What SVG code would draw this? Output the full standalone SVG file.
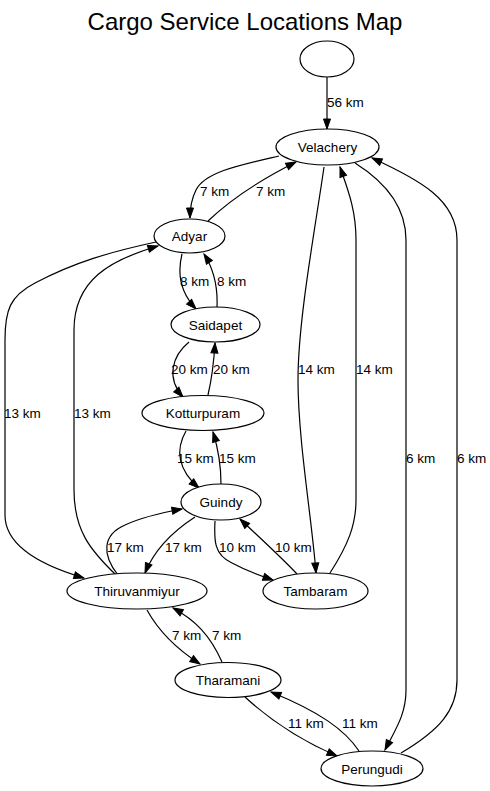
<svg xmlns="http://www.w3.org/2000/svg" width="490" height="791" viewBox="0 0 490 791">
<style>
.n ellipse{fill:#fff;stroke:#000;stroke-width:1.2}
.n text{font-family:"Liberation Sans",Arial,sans-serif;font-size:13.5px;text-anchor:middle;fill:#000}
.e path{fill:none;stroke:#000;stroke-width:1.2;marker-end:url(#ah)}
.e text{font-family:"Liberation Sans",Arial,sans-serif;font-size:13.5px;fill:#000}
.title{font-family:"Liberation Sans",Arial,sans-serif;font-size:24px;text-anchor:middle;fill:#000}
</style>
<defs>
<marker id="ah" markerUnits="userSpaceOnUse" markerWidth="11" markerHeight="8" refX="10" refY="3.5" orient="auto" overflow="visible">
<path d="M0,0 L10,3.5 L0,7 z" fill="#000" stroke="#000" stroke-width="1"/>
</marker>
</defs>
<rect width="490" height="791" fill="#fff"/>
<text class="title" x="245" y="30">Cargo Service Locations Map</text>
<g id="edges" class="e">
<path d="M327,77 L327,129"/>
<text x="327" y="107">56 km</text>
<path d="M279,156 C240,165 205,172 196,190 C191,200 190,208 190,218"/>
<text x="200" y="196">7 km</text>
<path d="M208,221 C230,200 260,180 296,162"/>
<text x="256" y="196">7 km</text>
<path d="M182,254 C178,270 178,290 196,309"/>
<text x="180" y="286">8 km</text>
<path d="M217,307 C218,285 213,268 204,254"/>
<text x="217" y="286">8 km</text>
<path d="M189,342 C172,356 166,378 183,397"/>
<text x="171" y="374">20 km</text>
<path d="M208,395 C212,378 214,360 215,343"/>
<text x="213" y="374">20 km</text>
<path d="M186,431 C175,450 178,470 199,488"/>
<text x="177" y="463">15 km</text>
<path d="M221,484 C221,466 218,448 213,432"/>
<text x="219" y="463">15 km</text>
<path d="M324,167 C315,230 298,320 298,380 C298,440 312,520 316,573"/>
<text x="298" y="374">14 km</text>
<path d="M330,573 C348,545 356,525 356,500 L356,240 C356,210 348,190 340,167"/>
<text x="356" y="374">14 km</text>
<path d="M355,163 C390,185 406,210 406,240 L406,690 C406,715 395,730 385,750"/>
<text x="406" y="463">6 km</text>
<path d="M401,753 C440,730 457,710 457,680 L457,240 C457,200 420,180 372,158"/>
<text x="457" y="463">6 km</text>
<path d="M156,242 C110,252 75,262 35,283 C10,296 5,310 5,340 L5,515 C5,545 40,565 84,578"/>
<text x="4" y="418">13 km</text>
<path d="M116,575 C90,550 74,530 74,490 L74,330 C74,280 110,260 158,246"/>
<text x="74" y="418">13 km</text>
<path d="M118,575 C102,555 102,535 125,525 C140,518 160,513 182,509"/>
<text x="107" y="552">17 km</text>
<path d="M195,517 C175,530 155,548 145,573"/>
<text x="165" y="552">17 km</text>
<path d="M215,521 C214,540 214,555 232,563 C245,570 258,575 273,580"/>
<text x="219" y="552">10 km</text>
<path d="M297,574 C280,556 260,538 240,519"/>
<text x="275" y="552">10 km</text>
<path d="M147,610 C158,630 175,648 200,664"/>
<text x="172" y="640">7 km</text>
<path d="M222,662 C210,635 195,620 173,608"/>
<text x="212" y="640">7 km</text>
<path d="M245,697 C270,720 300,740 337,756"/>
<text x="288" y="728">11 km</text>
<path d="M359,751 C345,730 320,712 271,692"/>
<text x="342" y="728">11 km</text>
</g>
<g id="node_empty" class="n"><ellipse cx="327" cy="59" rx="27" ry="18"/></g>
<g id="node_velachery" class="n"><ellipse cx="327.5" cy="147" rx="51.5" ry="18"/><text x="327.5" y="152">Velachery</text></g>
<g id="node_adyar" class="n"><ellipse cx="189.5" cy="236" rx="35.5" ry="17"/><text x="189.5" y="241">Adyar</text></g>
<g id="node_saidapet" class="n"><ellipse cx="215.5" cy="324.5" rx="44.5" ry="17.5"/><text x="215.5" y="329.5">Saidapet</text></g>
<g id="node_kotturpuram" class="n"><ellipse cx="203" cy="413" rx="61" ry="17.5"/><text x="203" y="418">Kotturpuram</text></g>
<g id="node_guindy" class="n"><ellipse cx="221" cy="502" rx="40" ry="18"/><text x="221" y="507">Guindy</text></g>
<g id="node_thiruvanmiyur" class="n"><ellipse cx="137" cy="591" rx="70" ry="18"/><text x="137" y="596">Thiruvanmiyur</text></g>
<g id="node_tambaram" class="n"><ellipse cx="315.5" cy="591" rx="52.5" ry="18"/><text x="315.5" y="596">Tambaram</text></g>
<g id="node_tharamani" class="n"><ellipse cx="228" cy="680" rx="53" ry="17.5"/><text x="228" y="685">Tharamani</text></g>
<g id="node_perungudi" class="n"><ellipse cx="372" cy="768.5" rx="51" ry="17.5"/><text x="372" y="773.5">Perungudi</text></g>
</svg>
